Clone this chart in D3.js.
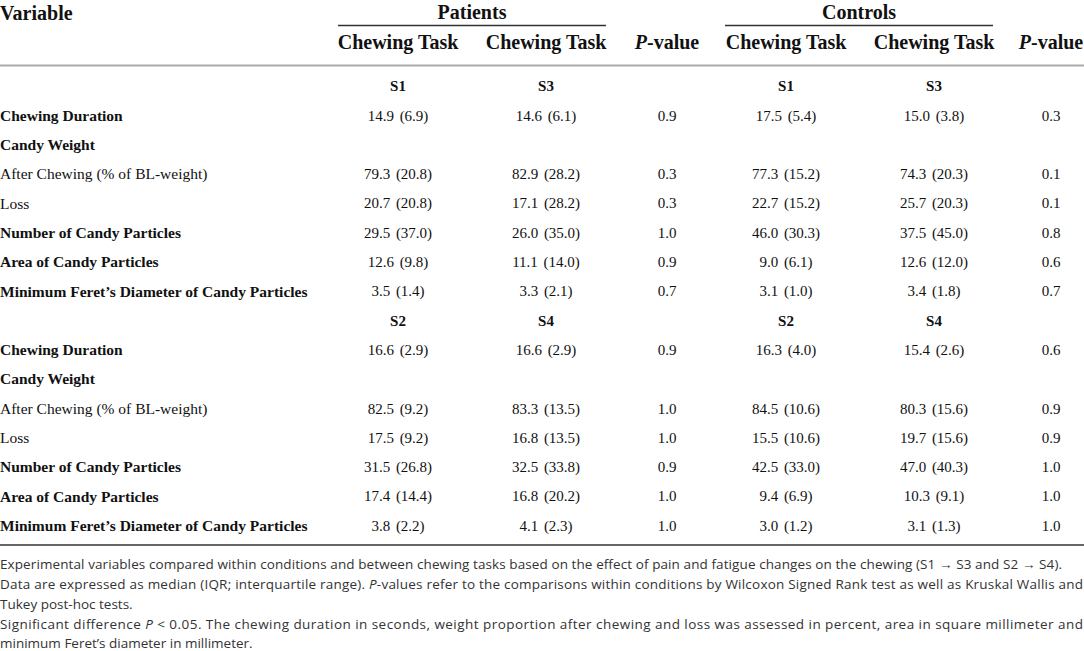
<!DOCTYPE html>
<meta charset="utf-8">
<style>
body { margin: 0; background: #fff; }
svg { display: block; }
.head { font-family: 'Liberation Serif', serif; font-weight: bold; font-size: 20px; fill: #111; }
.lab { font-family: 'Liberation Serif', serif; font-size: 15.5px; fill: #111; }
.cell { font-family: 'Liberation Serif', serif; font-size: 15px; fill: #111; word-spacing: 2px; }
.note { font-family: 'Open Sans', sans-serif; font-size: 13.5px; fill: #333; }
</style>
<body>
<div id="tbl"></div>
<script src="https://cdn.jsdelivr.net/npm/d3@7"></script>
<script>
var W = 1084, H = 651;

// table content
var variables = ["Chewing Duration", "Candy Weight", "After Chewing (% of BL-weight)", "Loss",
  "Number of Candy Particles", "Area of Candy Particles", "Minimum Feret\u2019s Diameter of Candy Particles"];
var boldVar = [true, true, false, false, true, true, true];

var sessions1 = ["S1", "S3"];
var sessions2 = ["S2", "S4"];

// S1 -> S3 block (median, IQR), null = no value
var patS1Med = [14.9, null, 79.3, 20.7, 29.5, 12.6, 3.5];
var patS1Iqr = [6.9, null, 20.8, 20.8, 37.0, 9.8, 1.4];
var patS3Med = [14.6, null, 82.9, 17.1, 26.0, 11.1, 3.3];
var patS3Iqr = [6.1, null, 28.2, 28.2, 35.0, 14.0, 2.1];
var patP1 = [0.9, null, 0.3, 0.3, 1.0, 0.9, 0.7];
var conS1Med = [17.5, null, 77.3, 22.7, 46.0, 9.0, 3.1];
var conS1Iqr = [5.4, null, 15.2, 15.2, 30.3, 6.1, 1.0];
var conS3Med = [15.0, null, 74.3, 25.7, 37.5, 12.6, 3.4];
var conS3Iqr = [3.8, null, 20.3, 20.3, 45.0, 12.0, 1.8];
var conP1 = [0.3, null, 0.1, 0.1, 0.8, 0.6, 0.7];

// S2 -> S4 block
var patS2Med = [16.6, null, 82.5, 17.5, 31.5, 17.4, 3.8];
var patS2Iqr = [2.9, null, 9.2, 9.2, 26.8, 14.4, 2.2];
var patS4Med = [16.6, null, 83.3, 16.8, 32.5, 16.8, 4.1];
var patS4Iqr = [2.9, null, 13.5, 13.5, 33.8, 20.2, 2.3];
var patP2 = [0.9, null, 1.0, 1.0, 0.9, 1.0, 1.0];
var conS2Med = [16.3, null, 84.5, 15.5, 42.5, 9.4, 3.0];
var conS2Iqr = [4.0, null, 10.6, 10.6, 33.0, 6.9, 1.2];
var conS4Med = [15.4, null, 80.3, 19.7, 47.0, 10.3, 3.1];
var conS4Iqr = [2.6, null, 15.6, 15.6, 40.3, 9.1, 1.3];
var conP2 = [0.6, null, 0.9, 0.9, 1.0, 1.0, 1.0];

var columns = ["pa", "pb", "pp", "ca", "cb", "cp"];
var colX = d3.scaleOrdinal().domain(columns).range([398, 546, 667, 786, 934, 1051]);
var rowY = d3.scaleLinear().domain([0, 15]).range([86, 525.5]);

var f1 = d3.format(".1f");
function cell(m, q) { return m == null ? "" : f1(m) + " (" + f1(q) + ")"; }
function pv(p) { return p == null ? "" : f1(p); }

// build rows
var rows = [];
function block(ses, a, aq, b, bq, pp, c, cq, d, dq, cp) {
  rows.push({ label: "", bold: true, vals: [ses[0], ses[1], "", ses[0], ses[1], ""], sess: true });
  variables.forEach(function(v, i) {
    rows.push({ label: v, bold: boldVar[i],
      vals: [cell(a[i], aq[i]), cell(b[i], bq[i]), pv(pp[i]), cell(c[i], cq[i]), cell(d[i], dq[i]), pv(cp[i])] });
  });
}
block(sessions1, patS1Med, patS1Iqr, patS3Med, patS3Iqr, patP1, conS1Med, conS1Iqr, conS3Med, conS3Iqr, conP1);
block(sessions2, patS2Med, patS2Iqr, patS4Med, patS4Iqr, patP2, conS2Med, conS2Iqr, conS4Med, conS4Iqr, conP2);

var svg = d3.select('#tbl').append('svg')
  .attr('width', W).attr('height', H);

// header
svg.append('text').attr('class', 'head').attr('x', 0).attr('y', 20).text('Variable');
var groups = [{ name: 'Patients', x0: 338, x1: 606 }, { name: 'Controls', x0: 725, x1: 993 }];
groups.forEach(function(g) {
  svg.append('text').attr('class', 'head').attr('x', (g.x0 + g.x1) / 2).attr('y', 19)
    .attr('text-anchor', 'middle').text(g.name);
  svg.append('line').attr('x1', g.x0).attr('x2', g.x1).attr('y1', 25.5).attr('y2', 25.5)
    .attr('stroke', '#333').attr('stroke-width', 1.3);
});

var subHead = ["Chewing Task", "Chewing Task", "P", "Chewing Task", "Chewing Task", "P"];
columns.forEach(function(c, i) {
  var t = svg.append('text').attr('class', 'head').attr('x', colX(c)).attr('y', 49)
    .attr('text-anchor', 'middle');
  if (subHead[i] == "P") {
    t.append('tspan').style('font-style', 'italic').text('P');
    t.append('tspan').text('-value');
  } else t.text(subHead[i]);
});

svg.append('line').attr('x1', 0).attr('x2', W).attr('y1', 65.5).attr('y2', 65.5)
  .attr('stroke', '#aaa').attr('stroke-width', 2);

// body
var g = svg.selectAll('g.row').data(rows).enter().append('g').attr('class', 'row')
  .attr('transform', function(d, i) { return 'translate(0,' + rowY(i) + ')'; });

g.append('text').attr('class', 'lab').attr('x', 0).attr('dy', '0.35em')
  .style('font-weight', function(d) { return d.bold ? 'bold' : 'normal'; })
  .text(function(d) { return d.label; });

g.selectAll('text.cell').data(function(d) { return d.vals.map(function(v) { return { v: v, s: d.sess }; }); })
  .enter().append('text').attr('class', 'cell')
  .attr('x', function(d, i) { return colX(columns[i]); })
  .attr('dy', '0.35em').attr('text-anchor', 'middle')
  .style('font-weight', function(d) { return d.s ? 'bold' : 'normal'; })
  .text(function(d) { return d.v; });

svg.append('line').attr('x1', 0).attr('x2', W).attr('y1', 545).attr('y2', 545)
  .attr('stroke', '#666').attr('stroke-width', 2);

// footnote
var notes = [
  { y: 569, w: 1062, parts: [["Experimental variables compared within conditions and between chewing tasks based on the effect of pain and fatigue changes on the chewing (S1 \u2192 S3 and S2 \u2192 S4).", 0]] },
  { y: 589, w: 1083, parts: [["Data are expressed as median (IQR; interquartile range). ", 0], ["P", 1], ["-values refer to the comparisons within conditions by Wilcoxon Signed Rank test as well as Kruskal Wallis and", 0]] },
  { y: 609, w: 0, parts: [["Tukey post-hoc tests.", 0]] },
  { y: 629, w: 1083, parts: [["Significant difference ", 0], ["P", 1], [" < 0.05. The chewing duration in seconds, weight proportion after chewing and loss was assessed in percent, area in square millimeter and", 0]] },
  { y: 648, w: 0, parts: [["minimum Feret\u2019s diameter in millimeter.", 0]] }
];
notes.forEach(function(n) {
  var t = svg.append('text').attr('class', 'note').attr('x', 0).attr('y', n.y);
  if (n.w) t.attr('textLength', n.w).attr('lengthAdjust', 'spacing');
  n.parts.forEach(function(p) {
    t.append('tspan').style('font-style', p[1] ? 'italic' : 'normal').text(p[0]);
  });
});
</script>
</body>
